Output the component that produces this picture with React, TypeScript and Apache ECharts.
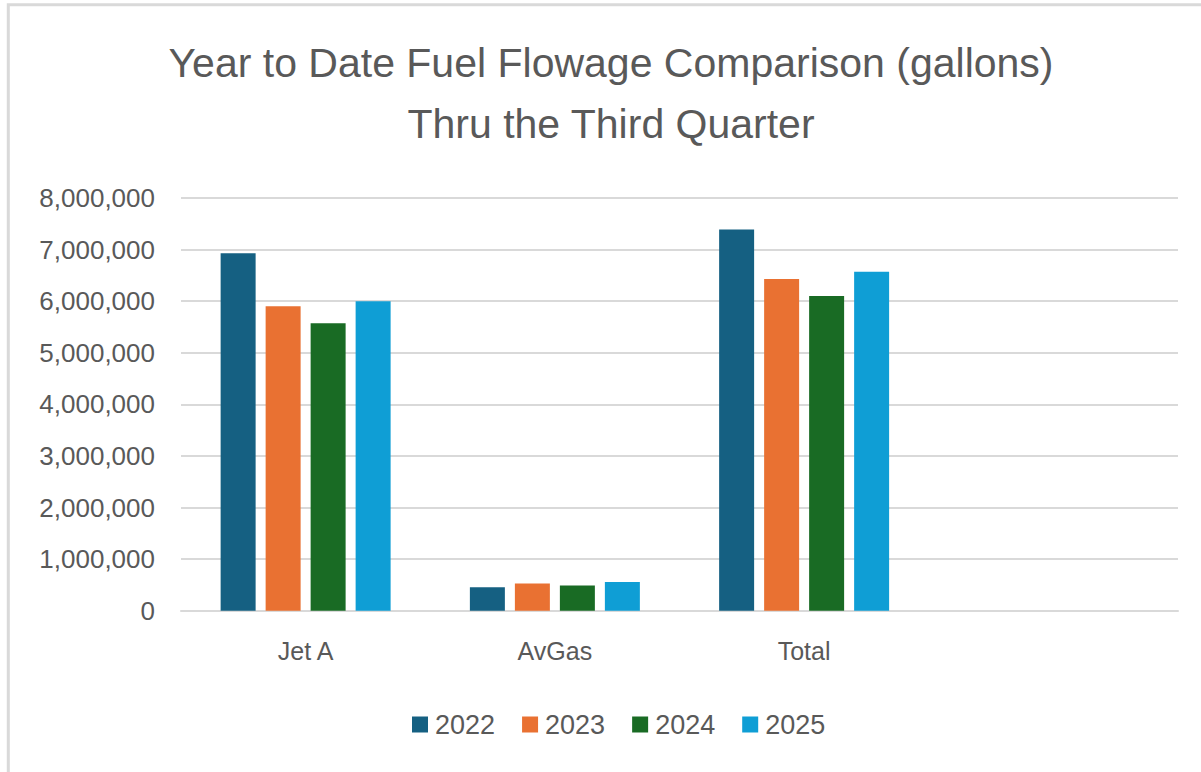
import React, { useEffect, useRef } from "react";
import * as echarts from "echarts";

const categories = ["Jet A", "AvGas", "Total", ""];
const years = ["2022", "2023", "2024", "2025"];
const values2022 = [6930000, 455000, 7390000, null];
const values2023 = [5900000, 527000, 6430000, null];
const values2024 = [5570000, 490000, 6100000, null];
const values2025 = [6000000, 558000, 6570000, null];
const yTickMax = 8000000;
const yTickStep = 1000000;
const titleLines = ["Year to Date Fuel Flowage Comparison (gallons)", "Thru the Third Quarter"];

const colors = ["#156082", "#E97132", "#196B24", "#0F9ED5"];

export default function App() {
  const ref = useRef<HTMLDivElement>(null);
  useEffect(() => {
    document.body.style.margin = "0";
    const chart = echarts.init(ref.current!, null, { renderer: "svg" });
    const seriesValues = [values2022, values2023, values2024, values2025];
    chart.setOption({
      animation: false,
      backgroundColor: "#ffffff",
      color: colors,
      title: {
        text: titleLines.join("\n"),
        left: 611,
        top: 32,
        textAlign: "center",
        padding: 0,
        textStyle: {
          fontFamily: "Liberation Sans, Arial, sans-serif",
          fontSize: 41,
          fontWeight: "normal",
          color: "#595959",
          lineHeight: 61,
        },
      },
      graphic: [
        {
          type: "rect",
          shape: { x: 8.3, y: 4.8, width: 1400, height: 1000 },
          style: { fill: "none", stroke: "#d9d9d9", lineWidth: 3 },
          silent: true,
        },
      ],
      legend: {
        left: 412,
        top: 711,
        padding: 0,
        itemWidth: 16,
        itemHeight: 16,
        itemGap: 27,
        icon: "rect",
        data: years,
        textStyle: {
          fontFamily: "Liberation Sans, Arial, sans-serif",
          fontSize: 27,
          color: "#595959",
          padding: [0, 0, 0, 2],
        },
      },
      grid: { left: 181, right: 23, top: 198, bottom: 161.3, containLabel: false },
      xAxis: {
        type: "category",
        data: categories,
        axisLine: { show: true, lineStyle: { color: "#d9d9d9", width: 2 } },
        axisTick: { show: false },
        axisLabel: {
          margin: 28,
          fontFamily: "Liberation Sans, Arial, sans-serif",
          fontSize: 25,
          color: "#595959",
        },
      },
      yAxis: {
        type: "value",
        min: 0,
        max: yTickMax,
        interval: yTickStep,
        axisLine: { show: false },
        axisTick: { show: false },
        splitLine: { lineStyle: { color: "#d9d9d9", width: 2 } },
        axisLabel: {
          margin: 26,
          fontFamily: "Liberation Sans, Arial, sans-serif",
          fontSize: 26,
          color: "#595959",
          formatter: (v: number) => v.toLocaleString("en-US"),
        },
      },
      series: years.map((y, i) => ({
        name: y,
        type: "bar",
        data: seriesValues[i],
        barGap: "28.6%",
        barCategoryGap: "31.8%",
        itemStyle: { color: colors[i] },
      })),
    });
    return () => chart.dispose();
  }, []);
  return <div ref={ref} style={{ width: 1201, height: 772 }} />;
}
